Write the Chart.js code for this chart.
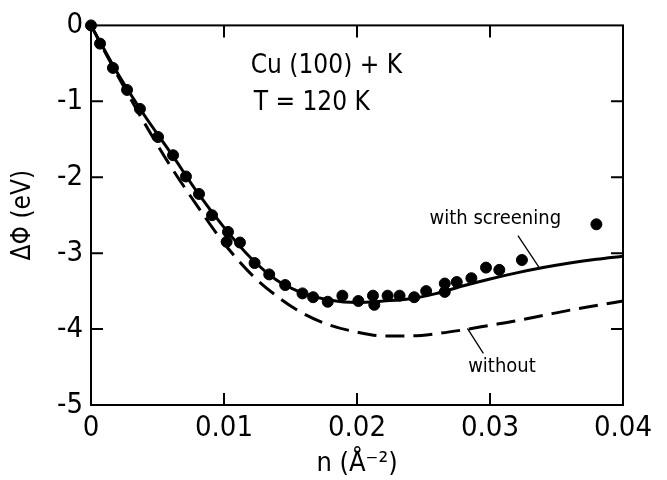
<html>
<head>
<script src="https://cdn.jsdelivr.net/npm/chart.js@4.4.1/dist/chart.umd.min.js"></script>
<style>
  body { margin: 0; background: #fff; }
  #wrap { width: 667px; height: 480px; }
</style>
</head>
<body>
<div id="wrap"><canvas id="myChart" width="667" height="480"></canvas></div>
<script>
// measured points, Cu(100)+K at 120 K
var nMeas = [0, 0.00068, 0.00165, 0.00271, 0.00368, 0.00504, 0.00617, 0.00714, 0.00812, 0.0091,
  0.0103, 0.0102, 0.0112, 0.0123, 0.0134, 0.0146, 0.0159, 0.0167, 0.0178, 0.0189,
  0.0201, 0.0212, 0.0213, 0.0223, 0.0232, 0.0243, 0.0252, 0.0266, 0.0266, 0.0275,
  0.0286, 0.0297, 0.0307, 0.0324, 0.0380];
var phiMeas = [0, -0.24, -0.56, -0.85, -1.10, -1.47, -1.71, -1.99, -2.22, -2.50,
  -2.72, -2.85, -2.86, -3.13, -3.28, -3.42, -3.53, -3.58, -3.64, -3.56,
  -3.63, -3.56, -3.68, -3.56, -3.56, -3.58, -3.50, -3.40, -3.51, -3.38,
  -3.33, -3.19, -3.22, -3.09, -2.62];

// theory curves
var nCurve = [0, 0.002, 0.004, 0.006, 0.008, 0.010, 0.012, 0.014, 0.016, 0.018, 0.020,
  0.022, 0.024, 0.026, 0.028, 0.030, 0.032, 0.034, 0.036, 0.038, 0.040];
var phiScreen = [0, -0.63, -1.18, -1.68, -2.20, -2.66, -3.06, -3.36, -3.53, -3.62, -3.65,
  -3.63, -3.60, -3.53, -3.43, -3.34, -3.26, -3.19, -3.13, -3.08, -3.04];
var phiWithout = [0, -0.66, -1.28, -1.86, -2.38, -2.87, -3.27, -3.57, -3.80, -3.95, -4.04,
  -4.09, -4.09, -4.06, -4.01, -3.95, -3.89, -3.82, -3.75, -3.69, -3.63];

var xTicks = ['0', '0.01', '0.02', '0.03', '0.04'];
var yTicks = ['0', '-1', '-2', '-3', '-4', '-5'];

var FONT = '"DejaVu Sans Condensed", "Liberation Sans Narrow", sans-serif';

function pts(xs, ys) {
  return xs.map(function (x, i) { return { x: x, y: ys[i] }; });
}

// frame, inward ticks, labels and pointer lines
var framePlugin = {
  id: 'frame',
  afterDatasetsDraw: function (chart) {
    var c = chart.ctx, a = chart.chartArea;
    var xs = chart.scales.x, ys = chart.scales.y;
    c.save();
    c.strokeStyle = '#000';
    c.lineWidth = 2;
    c.strokeRect(a.left, a.top, a.right - a.left, a.bottom - a.top);
    var L = 12;
    c.beginPath();
    for (var i = 1; i < 4; i++) {
      var px = xs.getPixelForValue(i * 0.01);
      c.moveTo(px, a.bottom); c.lineTo(px, a.bottom - L);
      c.moveTo(px, a.top); c.lineTo(px, a.top + L);
    }
    for (var j = 1; j < 5; j++) {
      var py = ys.getPixelForValue(-j);
      c.moveTo(a.left, py); c.lineTo(a.left + L, py);
      c.moveTo(a.right, py); c.lineTo(a.right - L, py);
    }
    c.stroke();

    // pointer lines
    c.lineWidth = 1.3;
    c.beginPath();
    c.moveTo(xs.getPixelForValue(0.0321), ys.getPixelForValue(-2.77));
    c.lineTo(xs.getPixelForValue(0.0337), ys.getPixelForValue(-3.19));
    c.moveTo(xs.getPixelForValue(0.0283), ys.getPixelForValue(-3.99));
    c.lineTo(xs.getPixelForValue(0.0295), ys.getPixelForValue(-4.32));
    c.stroke();

    c.fillStyle = '#000';
    c.textAlign = 'center';
    c.textBaseline = 'middle';
    c.font = '26px ' + FONT;
    c.fillText('Cu (100) + K', xs.getPixelForValue(0.0177), ys.getPixelForValue(-0.54));
    c.fillText('T = 120 K', xs.getPixelForValue(0.0166), ys.getPixelForValue(-1.02));
    c.font = '20px ' + FONT;
    c.fillText('with screening', xs.getPixelForValue(0.0304), ys.getPixelForValue(-2.55));
    c.fillText('without', xs.getPixelForValue(0.0309), ys.getPixelForValue(-4.5));
    c.restore();
  }
};

var ctx = document.getElementById('myChart').getContext('2d');
var chart = new Chart(ctx, {
  type: 'scatter',
  data: {
    datasets: [
      {
        label: 'with screening',
        type: 'line',
        data: pts(nCurve, phiScreen),
        borderColor: '#000',
        borderWidth: 3,
        pointRadius: 0,
        cubicInterpolationMode: 'monotone',
        fill: false
      },
      {
        label: 'without',
        type: 'line',
        data: pts(nCurve, phiWithout),
        borderColor: '#000',
        borderWidth: 3,
        borderDash: [19, 9],
        pointRadius: 0,
        cubicInterpolationMode: 'monotone',
        fill: false
      },
      {
        label: 'measured',
        data: pts(nMeas, phiMeas),
        backgroundColor: '#000',
        borderColor: '#000',
        pointRadius: 5.5,
        pointHoverRadius: 5.5
      }
    ]
  },
  options: {
    responsive: false,
    animation: false,
    clip: false,
    layout: { padding: { left: 0, right: 44, top: 15, bottom: 0 } },
    plugins: { legend: { display: false }, tooltip: { enabled: false } },
    scales: {
      x: {
        type: 'linear', min: 0, max: 0.04,
        afterFit: function (s) { s.height = 75; },
        grid: { display: false, drawTicks: false },
        border: { display: false },
        ticks: {
          stepSize: 0.01, padding: 6, color: '#000',
          font: { family: FONT, size: 29 },
          callback: function (v, i) { return xTicks[i]; }
        },
        title: {
          display: true, text: 'n (Å\u207B\u00B2)', color: '#000',
          font: { family: FONT, size: 27 }, padding: { top: 0, bottom: 0 }
        }
      },
      y: {
        type: 'linear', min: -5, max: 0,
        afterFit: function (s) { s.width = 91; },
        grid: { display: false, drawTicks: false },
        border: { display: false },
        ticks: {
          stepSize: 1, padding: 8, color: '#000',
          font: { family: FONT, size: 29 },
          callback: function (v, i, t) { return yTicks[-v]; }
        },
        title: {
          display: true, text: 'ΔΦ (eV)', color: '#000',
          font: { family: FONT, size: 26 }, padding: { top: 8, bottom: 0 }
        }
      }
    }
  },
  plugins: [framePlugin]
});
</script>
</body>
</html>
